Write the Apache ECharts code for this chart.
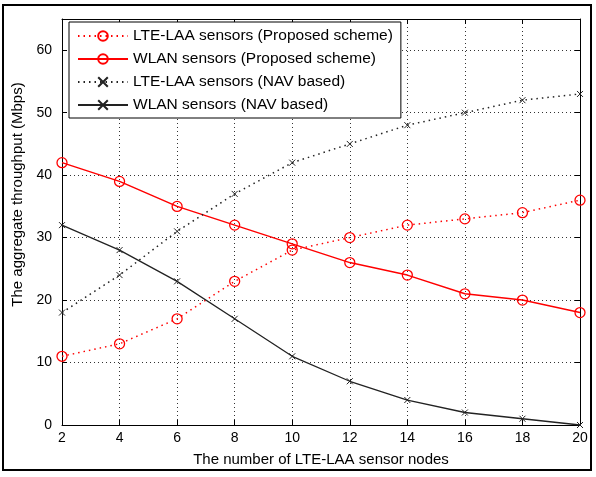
<!DOCTYPE html>
<html><head><meta charset="utf-8">
<script src="https://cdn.jsdelivr.net/npm/echarts@6/dist/echarts.min.js"></script>
<style>html,body{margin:0;padding:0;background:#fff}#c{width:596px;height:477px}</style>
</head><body><div id="c"></div>
<script>
const categories = [2,4,6,8,10,12,14,16,18,20];
const lteProposed = [11,13,17,23,28,30,32,33,34,36];
const wlanProposed = [42,39,35,32,29,26,24,21,20,18];
const lteNav = [18,24,31,37,42,45,48,50,52,53];
const wlanNav = [32,28,23,17,11,7,4,2,1,0];
const yTicks = [0,10,20,30,40,50,60];
const names = ['LTE-LAA sensors (Proposed scheme)','WLAN sensors (Proposed scheme)','LTE-LAA sensors (NAV based)','WLAN sensors (NAV based)'];

const FONT = 'Liberation Sans, Arial, sans-serif';
const X = 'path://M0,0L10,10M10,0L0,10';
const pairs = a => a.map((v,i)=>[categories[i],v]);
const chart = echarts.init(document.getElementById('c'));
const axisCommon = {
  axisLine:{show:true,onZero:false,lineStyle:{color:'#000',width:1}},
  axisTick:{show:true,inside:true,length:5,lineStyle:{color:'#000'}},
};
const redCircle = {color:'rgba(255,0,0,0)',borderColor:'#ff0000',borderWidth:1.3};
chart.setOption({
  animation:false,
  textStyle:{fontFamily:FONT},
  graphic:[{type:'rect',shape:{x:3,y:5,width:588,height:465},style:{fill:'none',stroke:'#000',lineWidth:2},z:-1}],
  grid:{left:62,right:16,top:19,bottom:52,containLabel:false},
  legend:{
    orient:'vertical',left:69,top:22,
    data:names,
    backgroundColor:'#fff',borderColor:'#000',borderWidth:1,
    padding:[6,8,5,8],
    itemWidth:50,itemHeight:12,itemGap:7,
    textStyle:{fontFamily:FONT,fontSize:15.5,color:'#000'}
  },
  xAxis:[{
    type:'value',min:2,max:20,interval:2,position:'bottom',
    name:'The number of LTE-LAA sensor nodes',nameLocation:'middle',nameGap:27,
    nameTextStyle:{fontFamily:FONT,fontSize:15,color:'#000'},
    ...axisCommon,
    axisLabel:{color:'#000',fontSize:14,fontFamily:FONT,margin:6},
    splitLine:{show:true,lineStyle:{color:'#333',type:[1,3],width:1}}
  },{
    type:'value',min:2,max:20,interval:2,position:'top',
    ...axisCommon,axisLabel:{show:false},splitLine:{show:false}
  }],
  yAxis:[{
    type:'value',min:0,max:65,interval:10,position:'left',
    name:'The aggregate throughput (Mbps)',nameLocation:'middle',nameGap:28,
    nameTextStyle:{fontFamily:FONT,fontSize:15,color:'#000',padding:[0,0,0,55]},
    ...axisCommon,
    axisLabel:{color:'#000',fontSize:14,fontFamily:FONT,margin:10,
      formatter:v=>yTicks.includes(v)?String(v):''},
    splitLine:{show:true,lineStyle:{color:'#333',type:[1,3],width:1}}
  },{
    type:'value',min:0,max:65,interval:10,position:'right',
    ...axisCommon,axisLabel:{show:false},splitLine:{show:false}
  }],
  series:[
    {name:names[0],type:'line',data:pairs(lteProposed),symbol:'circle',symbolSize:10,
     lineStyle:{color:'#ff0000',width:1.5,type:[1.5,4]},itemStyle:redCircle},
    {name:names[1],type:'line',data:pairs(wlanProposed),symbol:'circle',symbolSize:10,
     lineStyle:{color:'#ff0000',width:1.5,type:'solid'},itemStyle:redCircle},
    {name:names[2],type:'line',data:pairs(lteNav),symbol:X,symbolSize:6,
     lineStyle:{color:'#222',width:1.5,type:[1.5,4]},itemStyle:{color:'#222',borderColor:'#222',borderWidth:1}},
    {name:names[3],type:'line',data:pairs(wlanNav),symbol:X,symbolSize:6,
     lineStyle:{color:'#222',width:1.3,type:'solid'},itemStyle:{color:'#222',borderColor:'#222',borderWidth:1}}
  ]
});
</script></body></html>
